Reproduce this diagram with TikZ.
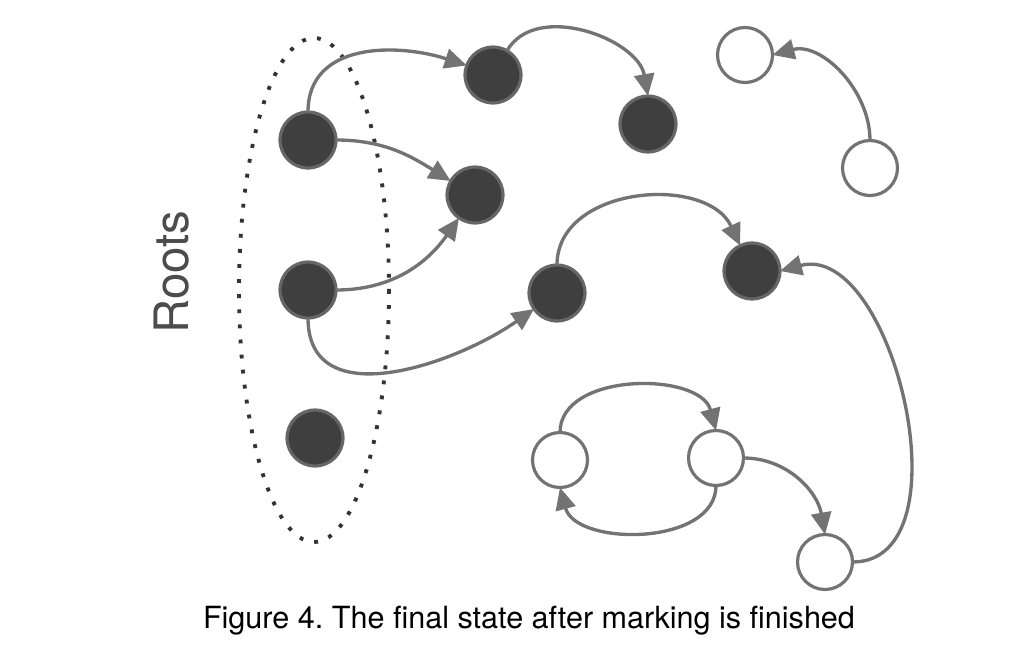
\documentclass[tikz,border=0pt]{standalone}
\usepackage{fontspec}
\setmainfont{TeX Gyre Heros}
\usepackage{xcolor}
\usetikzlibrary{arrows.meta,positioning,calc}
\definecolor{edgegray}{HTML}{737373}
\definecolor{markfill}{HTML}{3F3F3F}
\definecolor{markdraw}{HTML}{666666}
\begin{document}
\begin{tikzpicture}[>={Triangle[length=0.44cm,width=0.40cm]}, x=0.02cm, y=-0.02cm,
 live/.style={draw=markdraw, fill=markfill, circle, line width=1.8pt, minimum size=1.12cm, inner sep=0pt, outer sep=0pt},
 dead/.style={draw=edgegray, fill=white, circle, line width=1.8pt, minimum size=1.1cm, inner sep=0pt, outer sep=0pt},
 ref/.style={->, draw=edgegray, line width=1.9pt}]
\useasboundingbox (0,0) rectangle (1028,646);
% ensemble des racines
\draw[line width=2.2pt, black!80, dash pattern=on 2.2pt off 6.4pt] (314,290) ellipse [x radius=75, y radius=252];
\node[rotate=90, text=black!70, font=\fontsize{27}{30}\selectfont] (lbl) at (172,272) {Roots};
% objets marques
\node[live] (r1) at (308,140) {};
\node[live] (r2) at (308,290) {};
\node[live] (r3) at (315,438) {};
\node[live] (a) at (493,75) {};
\node[live] (b) at (648,124) {};
\node[live] (c) at (475,195) {};
\node[live] (d) at (557,293) {};
\node[live] (e) at (752,271) {};
% objets non marques
\node[dead] (w1) at (745,55) {};
\node[dead] (w2) at (870,168) {};
\node[dead] (w3) at (560,460) {};
\node[dead] (w4) at (716,458) {};
\node[dead] (w5) at (825,562) {};
% references
\draw[ref] (r1.north) to[out=90, in=162, looseness=1.1] (a.160);
\draw[ref] (a.60) to[out=60, in=100] (b.north);
\draw[ref] (r1.east) to[out=0, in=148] (c.150);
\draw[ref] (r2.east) to[out=0, in=235] (c.235);
\draw[ref] (r2.south) to[out=-90, in=215, looseness=1.1] (d.215);
\draw[ref] (d.north) to[out=90, in=115, looseness=1.1] (e.115);
\draw[ref] (w5.east) to[out=0, in=15] (e.east);
\draw[ref] (w2.north) to[out=90, in=15] (w1.east);
\draw[ref] (w3.north) to[out=90, in=105] (w4.north);
\draw[ref] (w4.south) to[out=-90, in=-75] (w3.south);
\draw[ref] (w4.east) to[out=0, in=100] (w5.north);
% legende
\node[font=\fontsize{17.4}{20}\selectfont] (cap) at (529,621) {\frenchspacing Figure 4. The final state after marking is finished};
\end{tikzpicture}
\end{document}
